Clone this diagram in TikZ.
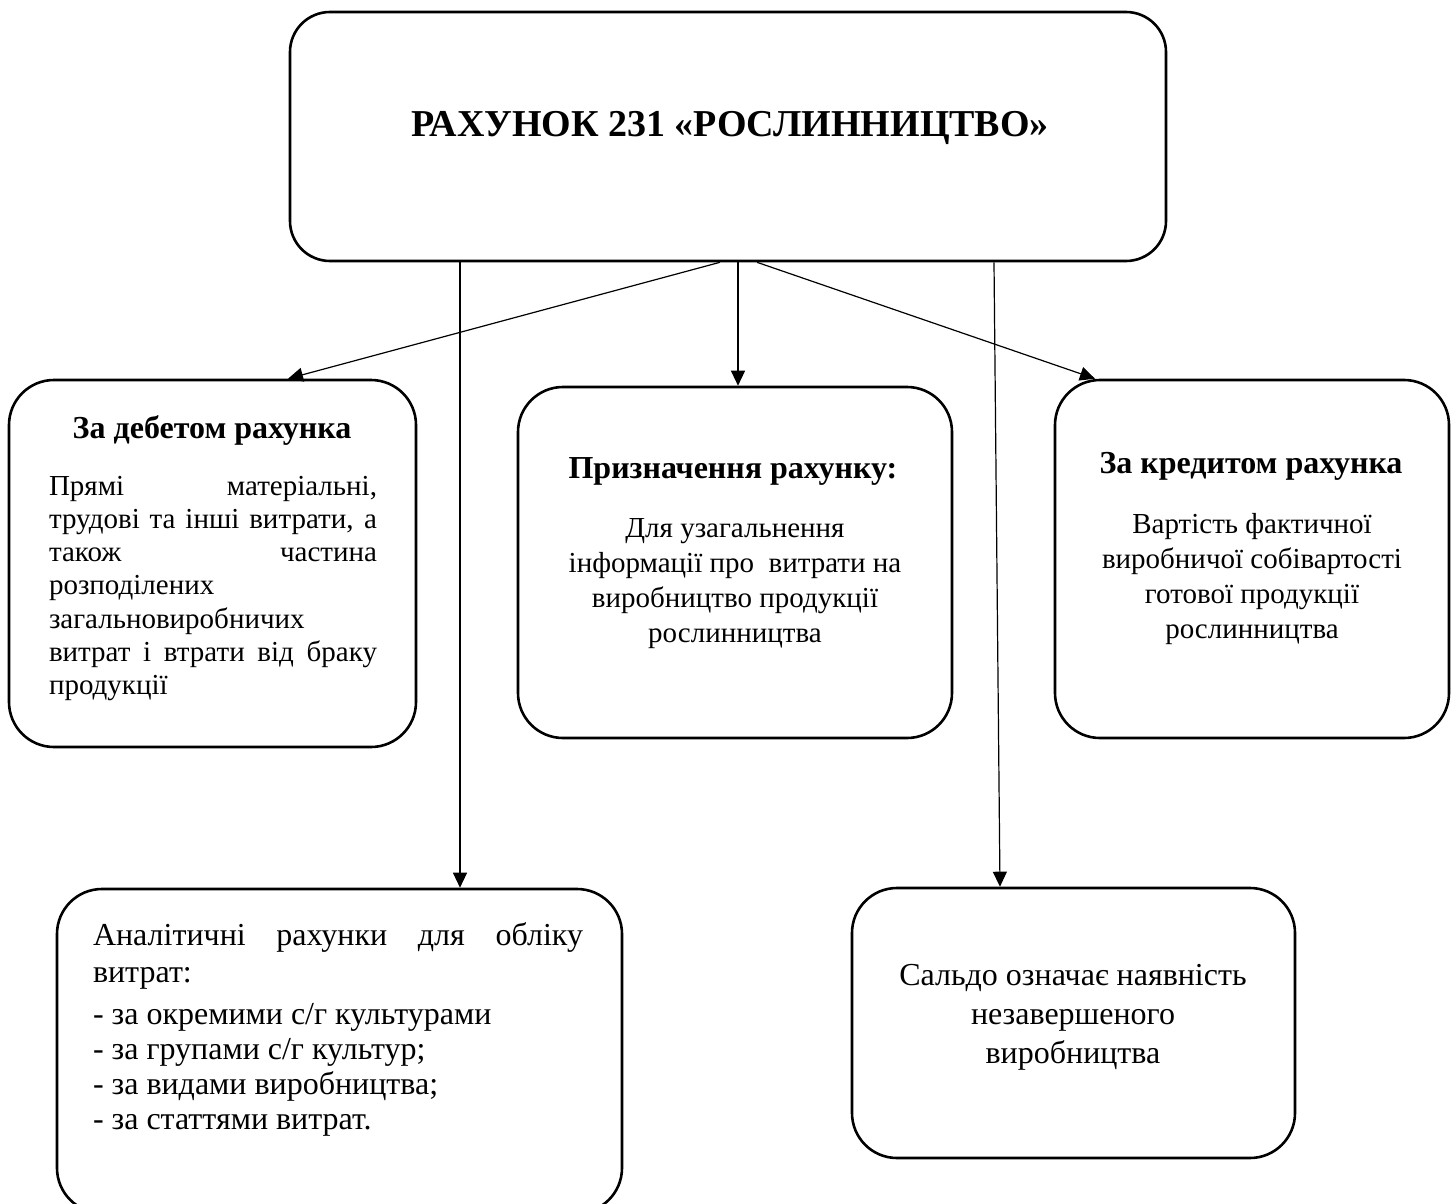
\documentclass[tikz,border=0pt]{standalone}
\usepackage{fontspec}
\setmainfont{Liberation Serif}
\usetikzlibrary{arrows.meta}

\tikzset{
  box/.style={draw, line width=2.6pt, rounded corners=45pt, inner sep=0pt},
  arr/.style={line width=1.2pt, -{Triangle[length=15pt,width=14pt]}},
  head/.style={inner sep=0pt, anchor=base, font=\fontsize{32}{36}\selectfont\bfseries},
  body/.style={inner sep=0pt, anchor=base},
}

\begin{document}
\begin{tikzpicture}[x=1pt, y=-1pt]
\useasboundingbox (0,0) rectangle (1452,1204);

% boxes
\node[box, rounded corners=40pt, minimum width=876pt, minimum height=249pt] (acc) at (728,136.5) {};
\node[box, minimum width=407pt, minimum height=367pt] (deb) at (212.5,563.5) {};
\node[box, minimum width=434pt, minimum height=351pt] (mid) at (735,562.5) {};
\node[box, minimum width=394pt, minimum height=358pt] (cred) at (1252,559) {};
\node[box, minimum width=565pt, minimum height=324pt] (anl) at (339.5,1051) {};
\node[box, minimum width=443pt, minimum height=270pt] (sal) at (1073.5,1023) {};

% title
\node[inner sep=0pt, anchor=base, font=\fontsize{38}{42}\selectfont\bfseries] (ttl) at (730,137)
  {РАХУНОК 231 «РОСЛИННИЦТВО»};

% debit side
\node[head] (debh) at (212,438) {За дебетом рахунка};
\node[body] (debt) at (213,495) {\parbox[t]{328pt}{\fontsize{29}{33.3}\selectfont
  \makebox[\linewidth][s]{Прямі матеріальні,}\\
  \makebox[\linewidth][s]{трудові та інші витрати, а}\\
  \makebox[\linewidth][s]{також частина}\\
  розподілених\\
  загальновиробничих\\
  \makebox[\linewidth][s]{витрат і втрати від браку}\\
  продукції}};

% purpose of the account
\node[head] (midh) at (733,478) {Призначення рахунку:};
\node[body] (midt) at (735,537) {\parbox[t]{420pt}{\centering\fontsize{29}{35}\selectfont
  Для узагальнення\\
  інформації про\ \ витрати на\\
  виробництво продукції\\
  рослинництва}};

% credit side
\node[head] (credh) at (1251,473) {За кредитом рахунка};
\node[body] (credt) at (1252,533) {\parbox[t]{390pt}{\centering\fontsize{29}{35}\selectfont
  Вартість фактичної\\
  виробничої собівартості\\
  готової продукції\\
  рослинництва}};

% analytical accounts
\node[body] (anlt) at (338,945) {\parbox[t]{490pt}{\fontsize{32}{35}\selectfont
  \makebox[\linewidth][s]{Аналітичні рахунки для обліку}\\[2pt]
  витрат:\\[7pt]
  - за окремими с/г культурами\\
  - за групами с/г культур;\\
  - за видами виробництва;\\
  - за статтями витрат.}};

% balance
\node[body] (salt) at (1073,985) {\parbox[t]{440pt}{\centering\fontsize{32}{39}\selectfont
  Сальдо означає наявність\\
  незавершеного\\
  виробництва}};

% connectors
\draw[arr] ([xshift=-268pt]acc.south) -- ([xshift=120.5pt]anl.north);
\draw[arr] ([xshift=-8pt]acc.south) -- ([xshift=75.5pt]deb.north);
\draw[arr] ([xshift=10pt]acc.south) -- ([xshift=3pt]mid.north);
\draw[arr] ([xshift=29pt]acc.south) -- ([xshift=-157pt]cred.north);
\draw[arr] ([xshift=266pt]acc.south) -- ([xshift=-73.5pt]sal.north);
\end{tikzpicture}
\end{document}
